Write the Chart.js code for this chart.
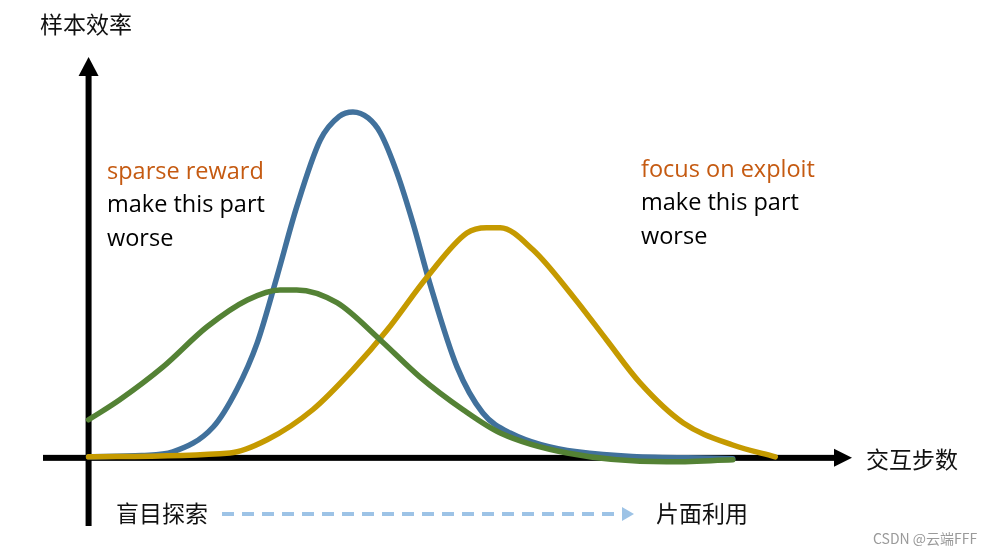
<!DOCTYPE html>
<html><head><meta charset="utf-8">
<script src="https://cdn.jsdelivr.net/npm/chart.js@4/dist/chart.umd.min.js"></script>
<style>html,body{margin:0;padding:0;background:#fff;}#wrap{width:995px;height:556px;}</style>
</head><body><div id="wrap"><canvas id="c" width="995" height="556"></canvas></div>
<script>
// Series (x = 交互步数, y = 样本效率)
const blueX  = [0, 7, 11.1, 16.4, 19.5, 22.2, 24.8, 27.4, 30.5, 33.0, 34.8, 36.8, 38.4, 40.6, 42.7, 44.9, 48.5, 51.9, 55.5, 64.3, 84.8];
const blueY  = [0.3, 0.6, 1.5, 7.7, 17.0, 28.7, 45.2, 62.6, 79.3, 85.2, 86.3, 84.8, 81.1, 71.1, 58.6, 43.7, 22.7, 11.2, 6.2, 1.5, -0.25];
const greenX = [0, 4.1, 9.8, 15.6, 20.9, 25.2, 27.4, 32.7, 38.4, 43.6, 49.3, 54.2, 63.0, 76.1, 84.8];
const greenY = [9.5, 14.5, 22.7, 32.7, 39.4, 41.9, 41.9, 38.7, 29.4, 20.2, 12.0, 6.2, 1.2, -1.0, -0.5];
const goldX  = [0, 18.6, 23.5, 29.5, 34.8, 39.3, 44.6, 49.8, 52.4, 54.2, 58.5, 63.8, 68.2, 72.6, 78.3, 84.8, 90.4];
const goldY  = [0.25, 1.2, 4.5, 12.0, 22.0, 31.9, 45.2, 56.1, 57.4, 57.4, 51.9, 40.2, 29.4, 18.7, 8.7, 3.2, 0.25];

const yTitle = '样本效率';
const xTitle = '交互步数';
const leftNote = ['sparse reward', 'make this part', 'worse'];
const rightNote = ['focus on exploit', 'make this part', 'worse'];
const fromLabel = '盲目探索';
const toLabel = '片面利用';
const watermark = 'CSDN @云端FFF';

const pts = (xs, ys) => xs.map((x, i) => ({x, y: ys[i]}));

const decor = {
  id: 'decor',
  beforeDatasetsDraw(chart) {
    const ctx = chart.ctx, xs = chart.scales.x, ys = chart.scales.y;
    const x0 = xs.getPixelForValue(0), y0 = ys.getPixelForValue(0);
    const a = chart.chartArea;
    ctx.save();
    ctx.fillStyle = '#000';
    ctx.fillRect(x0 - 3, a.top + 16, 6, a.bottom - a.top - 16);
    ctx.beginPath();
    ctx.moveTo(x0, a.top); ctx.lineTo(x0 - 10, a.top + 19); ctx.lineTo(x0 + 10, a.top + 19); ctx.closePath(); ctx.fill();
    ctx.fillRect(a.left, y0 - 3, a.right - a.left - 16, 6);
    ctx.beginPath();
    ctx.moveTo(a.right, y0); ctx.lineTo(a.right - 18, y0 - 9); ctx.lineTo(a.right - 18, y0 + 9); ctx.closePath(); ctx.fill();
    ctx.restore();
  },
  afterDraw(chart) {
    const ctx = chart.ctx;
    ctx.save();
    ctx.textBaseline = 'middle';
    ctx.textAlign = 'left';
    const cjk = '"Noto Sans CJK SC", sans-serif';
    const lat = '"Open Sans", "Noto Sans", sans-serif';
    ctx.fillStyle = '#111';
    ctx.font = '23px ' + cjk;
    ctx.fillText(yTitle, 40, 24);
    ctx.fillText(xTitle, 866, 459);
    ctx.fillText(fromLabel, 116, 513);
    ctx.fillText(toLabel, 656, 513);
    ctx.font = '23.5px ' + lat;
    const lh = 33.5;
    leftNote.forEach((t, i) => { ctx.fillStyle = i === 0 ? '#C55A11' : '#000'; ctx.fillText(t, 107, 172 + i * lh); });
    rightNote.forEach((t, i) => { ctx.fillStyle = i === 0 ? '#C55A11' : '#000'; ctx.fillText(t, 641, 170 + i * lh); });
    ctx.strokeStyle = '#9DC3E6';
    ctx.lineWidth = 4;
    ctx.setLineDash([12, 8]);
    ctx.beginPath(); ctx.moveTo(222, 514); ctx.lineTo(620, 514); ctx.stroke();
    ctx.setLineDash([]);
    ctx.fillStyle = '#9DC3E6';
    ctx.beginPath(); ctx.moveTo(634, 514); ctx.lineTo(622, 507); ctx.lineTo(622, 521); ctx.closePath(); ctx.fill();
    ctx.fillStyle = '#9a9a9a';
    ctx.font = '14px ' + cjk;
    ctx.fillText(watermark, 873, 539);
    ctx.restore();
  }
};

const ds = (data, color) => ({
  data, borderColor: color, borderWidth: 5.5, pointRadius: 0, showLine: true,
  cubicInterpolationMode: 'monotone', fill: false, borderCapStyle: 'round', borderJoinStyle: 'round'
});

new Chart(document.getElementById('c'), {
  type: 'scatter',
  data: { datasets: [
    ds(pts(greenX, greenY), '#548235'),
    ds(pts(goldX, goldY), '#C59A00'),
    ds(pts(blueX, blueY), '#41719C')
  ]},
  options: {
    responsive: false, animation: false, devicePixelRatio: 1,
    layout: { padding: { left: 43, top: 57, right: 143, bottom: 30 } },
    plugins: { legend: { display: false }, tooltip: { enabled: false } },
    scales: {
      x: { type: 'linear', min: -6, max: 100.5, display: false },
      y: { type: 'linear', min: -17, max: 100, display: false }
    }
  },
  plugins: [decor]
});
</script></body></html>
